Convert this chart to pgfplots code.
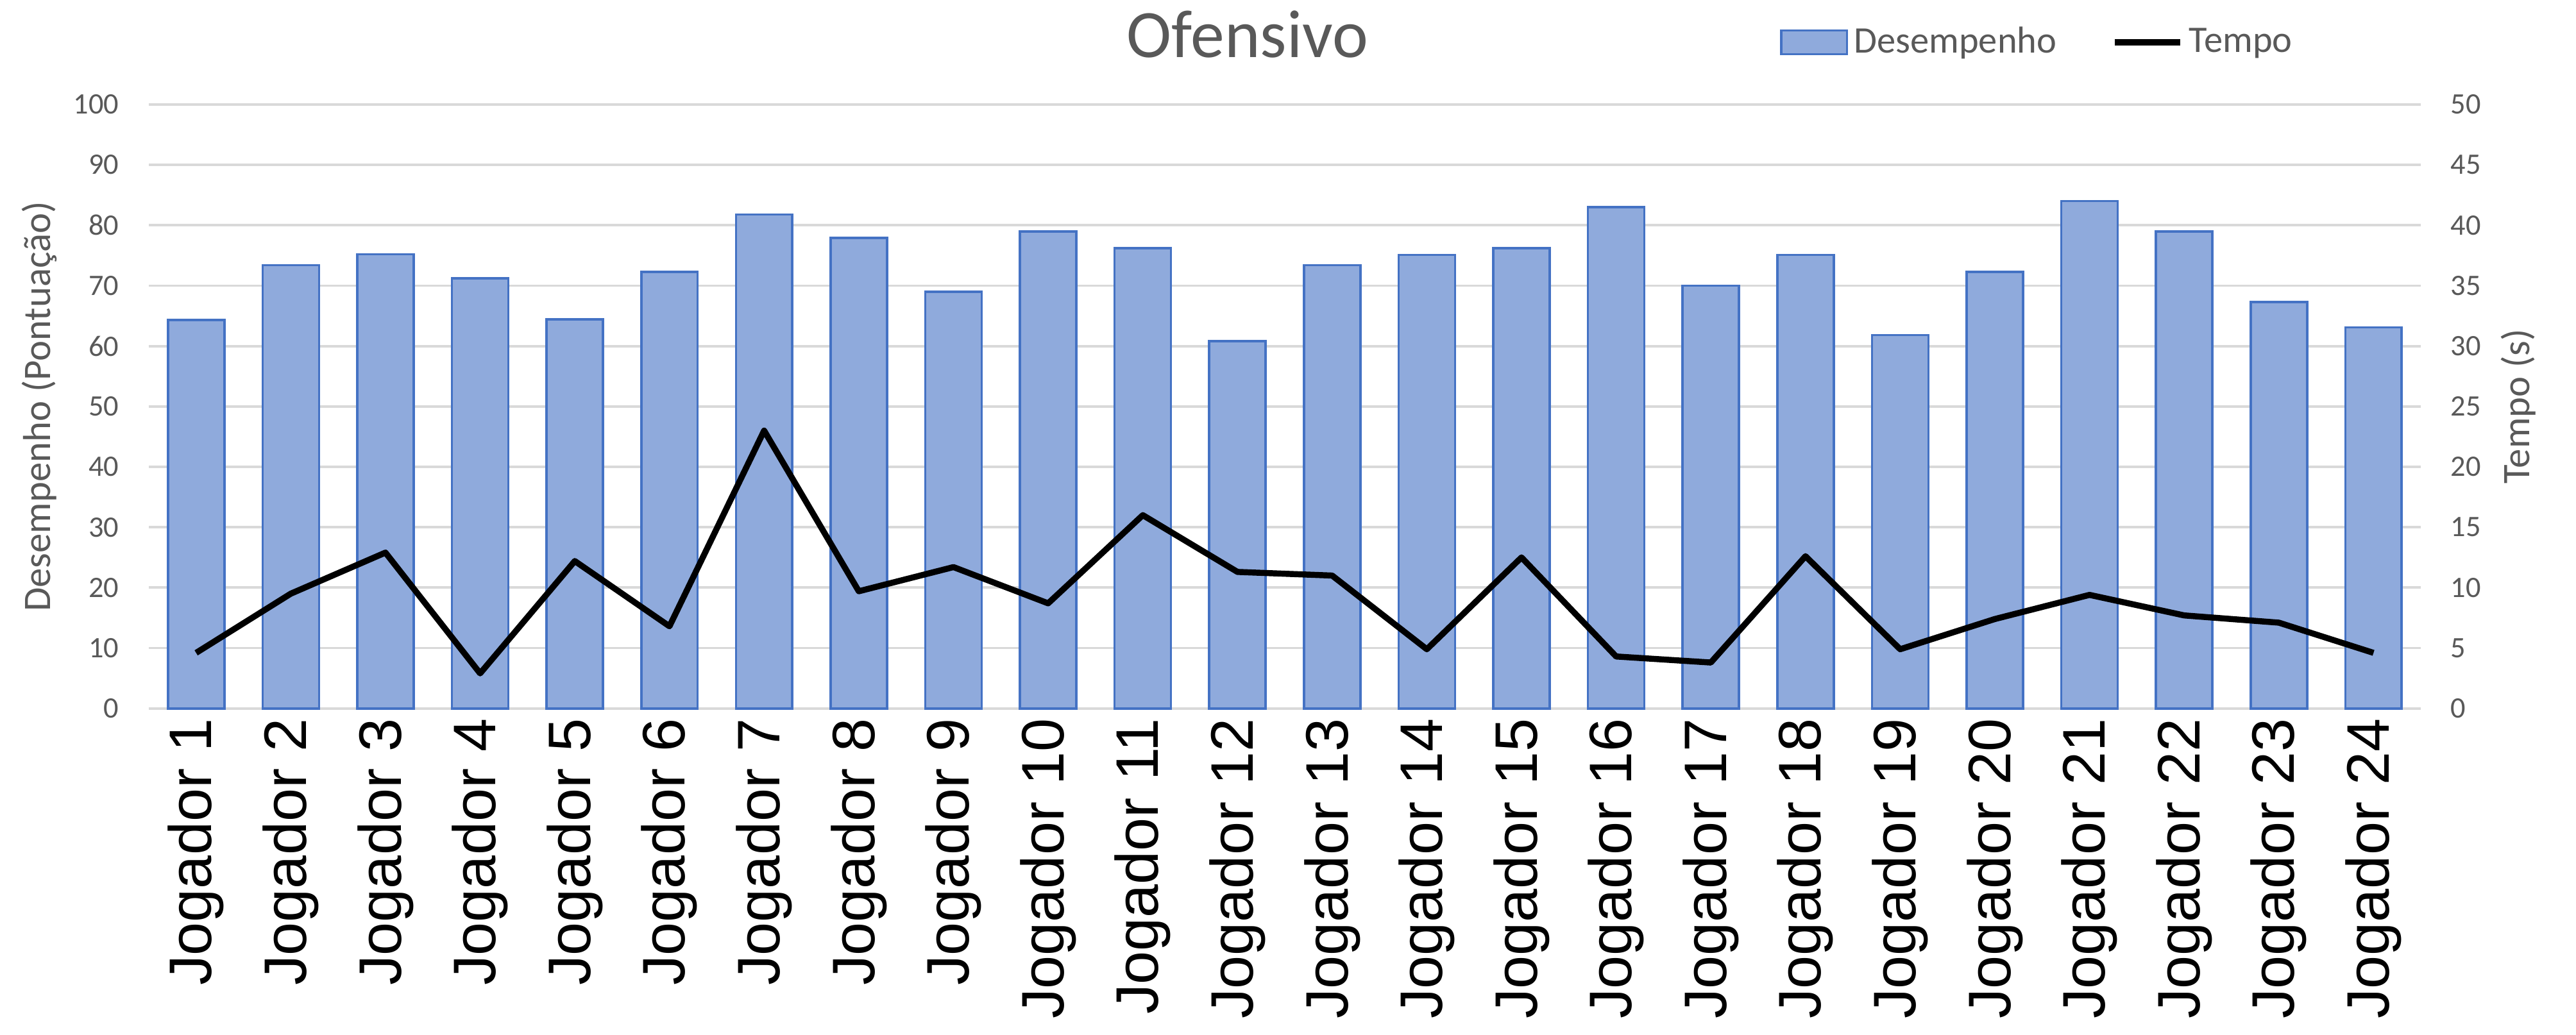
\documentclass[border=0pt]{standalone}
\usepackage{pgfplots}
\pgfplotsset{compat=1.18}
\usepackage{pgfplotstable}
\usepackage{fontspec}
\setmainfont{Carlito}
\newfontfamily\arialf{Liberation Sans}
\usetikzlibrary{calc}
\definecolor{txtgray}{HTML}{595959}
\definecolor{gridgray}{HTML}{D9D9D9}
\definecolor{barfill}{HTML}{8FAADC}
\definecolor{baredge}{HTML}{4472C4}

\pgfplotstableread{
x desemp tempo
1 64.3 4.6
2 73.4 9.5
3 75.2 12.9
4 71.2 2.9
5 64.4 12.2
6 72.3 6.8
7 81.8 23.0
8 77.9 9.7
9 69.0 11.7
10 79.0 8.7
11 76.2 16.0
12 60.8 11.3
13 73.4 11.0
14 75.1 4.9
15 76.2 12.5
16 83.0 4.3
17 70.0 3.8
18 75.1 12.6
19 61.8 4.9
20 72.3 7.4
21 84.0 9.4
22 79.0 7.7
23 67.3 7.1
24 63.1 4.6
}\datatable

\begin{document}
\begin{tikzpicture}
\pgfplotsset{
  common/.style={
    scale only axis,
    width=276.7mm, height=73.57mm,
    xmin=0.5, xmax=24.5,
    axis line style={draw=none},
    major tick length=0pt,
    /pgf/number format/assume math mode=true,
    yticklabel style={font=\fontsize{10.3}{12}\selectfont, text=txtgray},
    ylabel style={font=\fontsize{13.5}{16}\selectfont, text=txtgray},
    clip=false,
  }
}
\begin{axis}[common,
  ymin=0, ymax=100, ytick={0,10,...,100},
  ytick pos=left,
  yticklabel shift=2.4mm,
  ymajorgrids, grid style={gridgray, line width=0.85pt},
  xtick={1,...,24},
  xticklabels={Jogador 1,Jogador 2,Jogador 3,Jogador 4,Jogador 5,Jogador 6,Jogador 7,Jogador 8,Jogador 9,Jogador 10,Jogador 11,Jogador 12,Jogador 13,Jogador 14,Jogador 15,Jogador 16,Jogador 17,Jogador 18,Jogador 19,Jogador 20,Jogador 21,Jogador 22,Jogador 23,Jogador 24},
  xtick pos=bottom,
  xticklabel style={font=\arialf\fontsize{20.8}{24}\selectfont, rotate=90, anchor=east, text=black},
  ylabel={Desempenho (Pontuação)},
  ylabel style={at={(axis description cs:-0.0483,0.5)}, anchor=center},
  title={Ofensivo},
  title style={at={(axis description cs:0.4836,1.0498)}, anchor=base, yshift=0pt, font=\fontsize{23.5}{27}\selectfont, text=txtgray},
  legend columns=2,
  legend style={draw=none, fill=none, at={(axis description cs:0.8320,1.103)}, anchor=center,
    font=\fontsize{13}{15}\selectfont, text=txtgray,
    /tikz/every even column/.append style={column sep=6.0mm}},
]
\addplot[ybar, bar width=6.87mm, fill=barfill, draw=baredge, line width=0.8pt,
  legend image code/.code={\draw[fill=barfill, draw=baredge, line width=0.8pt] (0mm,-1.45mm) rectangle (8mm,1.45mm);}]
  table[x=x, y=desemp] {\datatable};
\addlegendentry{Desempenho}
\addlegendimage{black, line width=2.1pt, legend image code/.code={\draw[black, line width=2.1pt] (0mm,0mm) -- (8mm,0mm);}}
\addlegendentry{Tempo}
\end{axis}
\begin{axis}[common,
  ymin=0, ymax=50, ytick={0,5,...,50},
  ytick pos=right, yticklabel pos=right,
  yticklabel shift=2.4mm,
  xtick=\empty,
  ylabel={Tempo (s)},
  ylabel style={at={(axis description cs:1.0429,0.5)}, anchor=center},
]
\addplot[black, line width=2.1pt, line join=round, mark=none] table[x=x, y=tempo] {\datatable};
\end{axis}
\pgfresetboundingbox
\path ($(current axis.south west)+(-18.12mm,-39.75mm)$) rectangle ($(current axis.north east)+(18.9mm,12.73mm)$);
\end{tikzpicture}
\end{document}
